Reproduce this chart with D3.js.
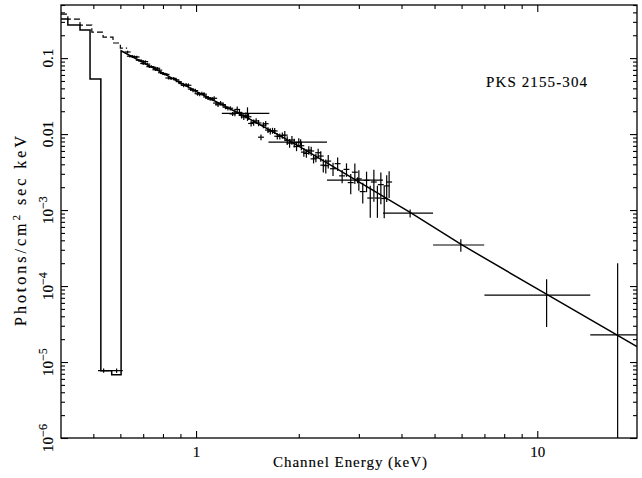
<!DOCTYPE html>
<html><head><meta charset="utf-8">
<script src="https://cdn.jsdelivr.net/npm/d3@7"></script>
<style>
body{margin:0;background:#fff;}
svg{display:block;background:#fff;}
text{font-family:"Liberation Serif","DejaVu Serif",serif;fill:#000;stroke:#000;stroke-width:0.15px;}
</style></head><body>
<svg id="chart" width="642" height="478"></svg>
<script>
// ---------- axis ranges & tick labels ----------
const xDomain = [0.402, 19.6];
const yDomain = [1e-6, 0.5];
const xMajorTicks = [1, 10];
const xMajorLabels = ["1", "10"];
const yMajorTicks = [1e-6, 1e-5, 1e-4, 1e-3, 0.01, 0.1];
const yTickBase = ["10", "10", "10", "10", "0.01", "0.1"];
const yTickExp = ["\u22126", "\u22125", "\u22124", "\u22123", "", ""];
const xTitle = "Channel Energy (keV)";
const yTitleMain = "Photons/cm";
const yTitleSup = "2";
const yTitleRest = " sec keV";
const sourceLabel = "PKS 2155-304";

// ---------- low-energy model histograms ----------
const solidHistEdges = [0.402, 0.421, 0.457, 0.489, 0.526, 0.566, 0.603];
const solidHistVals  = [0.326, 0.272, 0.234, 0.053, 7.7e-6, 6.8e-6];
const dashHistEdges  = [0.402, 0.421, 0.457, 0.495, 0.534, 0.571, 0.600, 0.628];
const dashHistVals   = [0.38, 0.326, 0.272, 0.22, 0.189, 0.158, 0.135];

// ---------- model continuum (energy keV, photons/cm2/s/keV) ----------
const modelE = [0.603, 0.8, 1.0, 1.4, 2.0, 3.0, 4.24, 6.0, 10.7, 19.6];
const modelV = [0.125, 0.0634, 0.0365, 0.0168, 0.00695, 0.00235, 9.3e-4, 3.5e-4, 7.7e-5, 1.6e-5];

// ---------- data points (centre energy, half-width, value, error) ----------
const ptE = [0.63,0.65,0.67,0.69,0.71,0.73,0.75,0.77,0.79,0.81,0.83,0.86,0.89,
  0.92,0.95,0.98,1.01,1.04,1.07,1.10,1.13,1.16,1.20,1.24,1.28,1.32,1.36,1.40,1.45,
  1.50,1.55,1.60,1.65,1.70,1.76,1.82,1.88,1.94,2.00,2.07,2.14,2.21,2.28,2.36,2.44,
  2.52,2.60,2.68,2.76,2.84,2.92,3.00,3.08,3.16,3.24,3.32,3.40,3.48,3.56,3.62,3.68,
  0.64,0.66,0.68,0.70,0.72,0.74,0.76,0.78,0.80,0.82,0.845,0.875,0.905,0.935,0.965,0.995,
  1.025,1.055,1.085,1.115,1.145,1.18,1.22,1.26,1.30,1.34,1.38,1.425,1.475,1.525,
  1.575,1.625,1.675,1.73,1.79,1.85,1.91,1.97,2.035,2.105,2.175,2.245,2.32,2.40,
  1.415,2.025,2.975,4.24,5.97,10.65,17.2,
  0.536,0.585];
const ptDE = [0.013,0.013,0.013,0.014,0.014,0.015,0.015,0.015,0.016,0.016,0.017,0.017,0.018,
  0.018,0.019,0.020,0.020,0.021,0.021,0.022,0.023,0.023,0.024,0.025,0.026,0.026,0.027,0.028,0.029,
  0.030,0.031,0.032,0.033,0.034,0.035,0.036,0.038,0.039,0.040,0.041,0.043,0.044,0.046,0.047,0.049,
  0.050,0.052,0.054,0.055,0.057,0.058,0.060,0.062,0.063,0.065,0.066,0.068,0.070,0.071,0.072,0.074,
  0.013,0.013,0.014,0.014,0.014,0.015,0.015,0.016,0.016,0.016,0.017,0.018,0.018,0.019,0.019,0.020,
  0.021,0.021,0.022,0.022,0.023,0.024,0.024,0.025,0.026,0.027,0.028,0.028,0.029,0.030,
  0.032,0.033,0.034,0.035,0.036,0.037,0.038,0.039,0.041,0.042,0.044,0.045,0.046,0.048,
  0.225,0.395,0.555,0.71,1.02,3.65,2.9,
  0.020,0.025];
const ptV = [0.1204,0.1055,0.1035,0.0922,0.0899,0.0772,0.0756,0.0735,0.0642,0.0614,0.0547,0.0541,0.0490,
  0.0438,0.0439,0.0379,0.0340,0.0341,0.0308,0.0291,0.0296,0.0243,0.0244,0.0218,0.0184,0.0211,0.0176,0.0176,0.0138,
  0.0149,0.0091,0.0137,0.0109,0.0110,0.00931,0.00969,0.00760,0.00768,0.00779,0.00579,0.00614,0.00472,0.00568,0.00390,0.00441,
  0.00350,0.00408,0.00282,0.00343,0.00230,0.00315,0.00257,0.00175,0.00246,0.00144,0.00234,0.00144,0.00216,0.00142,0.00208,0.00234,
  0.106,0.1037,0.0937,0.0848,0.0833,0.0773,0.0703,0.0694,0.0628,0.0609,0.0537,0.0518,0.0463,0.0444,0.0391,0.0373,
  0.0335,0.0335,0.0299,0.0290,0.0256,0.0256,0.0226,0.0219,0.0189,0.0193,0.0168,0.0169,0.0142,0.0140,
  0.0131,0.0113,0.0111,0.00936,0.00961,0.00827,0.00835,0.00686,0.00703,0.00557,0.00599,0.00485,0.00514,0.00384,
  0.0187,0.00785,0.00248,9.1e-4,3.47e-4,7.6e-5,2.27e-5,
  7.7e-6,7.7e-6];
const ptDV = [0.0048,0.0042,0.0041,0.0037,0.0036,0.0031,0.0030,0.0029,0.0026,0.0025,0.0022,0.0022,0.0020,
  0.0026,0.0026,0.0023,0.0020,0.0020,0.0018,0.0017,0.0018,0.0015,0.0015,0.0013,0.0011,0.0019,0.0016,0.0016,0.0012,
  0.0013,0.0008,0.0012,0.0010,0.0010,0.00084,0.00126,0.00099,0.00100,0.00101,0.00075,0.00080,0.00061,0.00074,0.00078,0.00088,
  0.00070,0.00082,0.00056,0.00069,0.00069,0.00095,0.00077,0.00053,0.00074,0.00065,0.00105,0.00065,0.00097,0.00064,0.00080,0.00090,
  0.0040,0.0040,0.0037,0.0034,0.0033,0.0031,0.0028,0.0028,0.0025,0.0024,0.0022,0.0021,0.0019,0.0027,0.0023,0.0022,
  0.0020,0.0020,0.0018,0.0017,0.0016,0.0016,0.0014,0.0014,0.0017,0.0017,0.0015,0.0015,0.0013,0.0013,
  0.0012,0.0010,0.0010,0.0009,0.0009,0.0011,0.0011,0.0009,0.0009,0.0007,0.0008,0.0006,0.0008,0.0008,
  0.0038,0.0007,0.00023,0.00011,0.000065,0.000047,0.000177,
  0.5e-6,0.5e-6];

// ---------- layout ----------
const svg = d3.select("#chart");
const L = 61, R = 637, T = 5, B = 438;
const x = d3.scaleLog().domain(xDomain).range([L, R]);
const y = d3.scaleLog().domain(yDomain).range([B, T]);

svg.append("defs").append("clipPath").attr("id", "plotclip")
  .append("rect").attr("x", L).attr("y", T).attr("width", R - L).attr("height", B - T);

const plot = svg.append("g").attr("clip-path", "url(#plotclip)");

function stepPoints(edges, vals) {
  const pts = [];
  vals.forEach((v, i) => { pts.push([edges[i], v]); pts.push([edges[i + 1], v]); });
  return pts;
}
const line = d3.line().x(d => x(d[0])).y(d => y(d[1]));

// solid model: histogram at low energy then continuum
const solidPts = stepPoints(solidHistEdges, solidHistVals)
  .concat(modelE.map((e, i) => [e, modelV[i]]));
plot.append("path").attr("d", line(solidPts))
  .attr("fill", "none").attr("stroke", "#000").attr("stroke-width", 1.5);

// dashed histogram
plot.append("path").attr("d", line(stepPoints(dashHistEdges, dashHistVals)))
  .attr("fill", "none").attr("stroke", "#000").attr("stroke-width", 1.2)
  .attr("stroke-dasharray", "6,3");

// data crosses
const pts = ptE.map((e, i) => ({ e, de: ptDE[i], v: ptV[i], dv: ptDV[i] }));
const cross = plot.append("g").attr("stroke", "#000").attr("stroke-width", 1.2);
cross.selectAll("line.h").data(pts).join("line").attr("class", "h")
  .attr("x1", d => x(d.e - d.de)).attr("x2", d => x(d.e + d.de))
  .attr("y1", d => y(d.v)).attr("y2", d => y(d.v));
cross.selectAll("line.v").data(pts).join("line").attr("class", "v")
  .attr("x1", d => x(d.e)).attr("x2", d => x(d.e))
  .attr("y1", d => y(Math.max(d.v - d.dv, 1e-8))).attr("y2", d => y(d.v + d.dv));

// ---------- axes (ticks on all four sides, pointing inward) ----------
const majLen = 7, minLen = 4;
const isMinor = t => Math.abs(Math.log10(t) - Math.round(Math.log10(t))) > 1e-6;
const xMinor = x.ticks().filter(isMinor);
const yMinor = y.ticks().filter(isMinor);

function axisGroup(gen, tx, ty) {
  const g = svg.append("g").attr("transform", `translate(${tx},${ty})`).call(gen);
  g.select(".domain").remove();
  g.selectAll("line").attr("stroke", "#000").attr("stroke-width", 1.1);
  return g;
}
const gxb = axisGroup(d3.axisBottom(x).tickValues(xMajorTicks).tickSize(-majLen).tickPadding(8)
  .tickFormat((d, i) => xMajorLabels[i]), 0, B);
gxb.selectAll("text").attr("font-size", 15).attr("font-family", "Liberation Serif");
axisGroup(d3.axisBottom(x).tickValues(xMinor).tickSize(-minLen).tickFormat(""), 0, B);
axisGroup(d3.axisTop(x).tickValues(xMajorTicks).tickSize(-majLen).tickFormat(""), 0, T);
axisGroup(d3.axisTop(x).tickValues(xMinor).tickSize(-minLen).tickFormat(""), 0, T);
axisGroup(d3.axisLeft(y).tickValues(yMajorTicks).tickSize(-majLen).tickFormat(""), L, 0);
axisGroup(d3.axisLeft(y).tickValues(yMinor).tickSize(-minLen).tickFormat(""), L, 0);
axisGroup(d3.axisRight(y).tickValues(yMajorTicks).tickSize(-majLen).tickFormat(""), R, 0);
axisGroup(d3.axisRight(y).tickValues(yMinor).tickSize(-minLen).tickFormat(""), R, 0);

svg.append("rect").attr("x", L).attr("y", T).attr("width", R - L).attr("height", B - T)
  .attr("fill", "none").attr("stroke", "#000").attr("stroke-width", 1.3);

// y tick labels (rotated)
const ylab = svg.append("g");
yMajorTicks.forEach((v, i) => {
  const t = ylab.append("text")
    .attr("transform", `translate(53,${y(v)}) rotate(-90)`)
    .attr("text-anchor", "middle").attr("font-size", 15);
  t.append("tspan").text(yTickBase[i]);
  if (yTickExp[i]) t.append("tspan").attr("dy", -6).attr("font-size", 12).text(yTickExp[i]);
});

// axis titles
svg.append("text").attr("x", 350).attr("y", 467).attr("text-anchor", "middle")
  .attr("font-size", 15).attr("textLength", 154).attr("lengthAdjust", "spacing").text(xTitle);
const yt = svg.append("text").attr("transform", "translate(26,231) rotate(-90)")
  .attr("text-anchor", "middle").attr("font-size", 16)
  .attr("textLength", 190).attr("lengthAdjust", "spacing");
yt.append("tspan").text(yTitleMain);
yt.append("tspan").attr("dy", -6).attr("font-size", 11).text(yTitleSup);
yt.append("tspan").attr("dy", 6).text(yTitleRest);

// source label
svg.append("text").attr("x", 486).attr("y", 87).attr("font-size", 15)
  .attr("textLength", 101).attr("lengthAdjust", "spacing").text(sourceLabel);
</script>
</body></html>
